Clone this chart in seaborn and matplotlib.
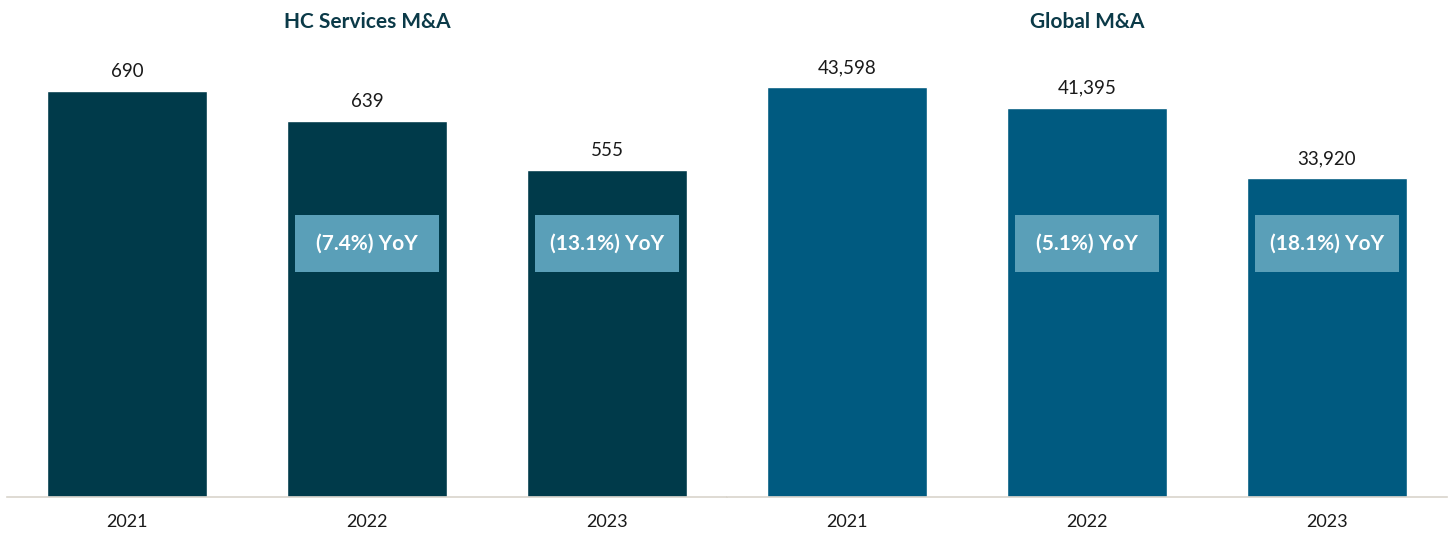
import matplotlib.pyplot as plt
import matplotlib.transforms as mtransforms
from matplotlib.patches import Rectangle
import seaborn as sns

sns.set_style("white")
plt.rcParams['font.family'] = ['Lato', 'DejaVu Sans']

# data
years = ["2021", "2022", "2023"]
hc_deals = [690, 639, 555]
global_deals = [43598, 41395, 33920]
hc_yoy = [None, "(7.4%) YoY", "(13.1%) YoY"]
global_yoy = [None, "(5.1%) YoY", "(18.1%) YoY"]

title_color = "#0b3a48"
box_color = "#5a9fb8"
axis_color = "#d9d4cc"

fig = plt.figure(figsize=(14.53, 5.33), dpi=100)
W, H = 1453, 533
# left axes 7..727 px, right 727..1447 px, baseline at 497, top at 40
bottom = (H - 497) / H
height = 457 / H
ax_left = fig.add_axes([7 / W, bottom, 720 / W, height])
ax_right = fig.add_axes([727 / W, bottom, 720 / W, height])

panels = [
    (ax_left, hc_deals, hc_yoy, "#003a4a", "HC Services M&A", 690 * 457 / 406),
    (ax_right, global_deals, global_yoy, "#005a80", "Global M&A", 43598 * 457 / 410),
]

for ax, vals, yoy, col, title, ymax in panels:
    sns.barplot(x=years, y=vals, ax=ax, color=col, saturation=1, width=0.667)
    ax.set_xlim(-0.5, 2.5)
    ax.set_ylim(0, ymax)
    ax.set_xlabel("")
    ax.set_ylabel("")
    ax.set_yticks([])
    ax.tick_params(axis="x", length=0, labelsize=13, pad=12, colors="#1a1a1a")
    for s in ["top", "left", "right"]:
        ax.spines[s].set_visible(False)
    ax.spines["bottom"].set_color(axis_color)
    ax.spines["bottom"].set_linewidth(1.2)
    ax.set_title(title, fontsize=15, fontweight="bold", color=title_color, pad=0, y=1.0 + 12 / 457)

    trans = mtransforms.blended_transform_factory(ax.transData, ax.transAxes)
    for i, v in enumerate(vals):
        ax.annotate(f"{v:,}", (i, v), xytext=(0, 8), textcoords="offset points",
                    ha="center", va="bottom", fontsize=13.5, color="#1a1a1a")
        if yoy[i]:
            ax.add_patch(Rectangle((i - 0.3, 0.492), 0.6, 0.125, transform=trans,
                                   facecolor=box_color, edgecolor="none", zorder=3))
            ax.text(i, 0.5545, yoy[i], transform=trans, ha="center", va="center",
                    fontsize=15, fontweight="bold", color="white", zorder=4)

plt.savefig("out.png", dpi=100)
